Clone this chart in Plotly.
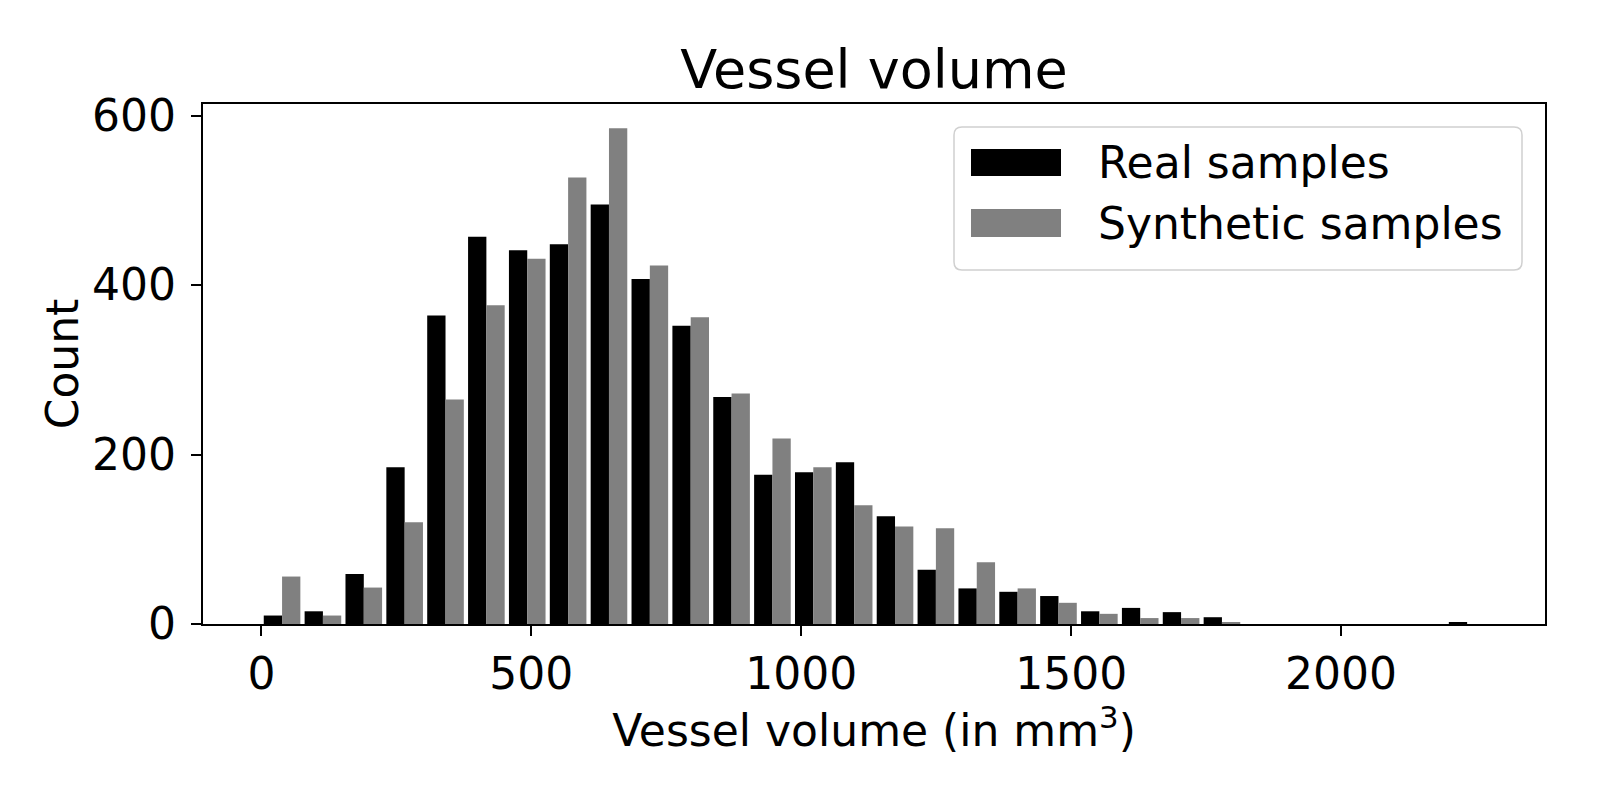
import numpy as np
import plotly.graph_objects as go

# Histogram bins (vessel volume, mm^3)
bin_start = 0.4
bin_width = 75.7
n_bins = 30

# Counts per bin
real_counts = [10, 15, 59, 185, 364, 457, 441, 448, 495, 407,
               352, 268, 176, 179, 191, 127, 64, 42, 38, 33,
               15, 19, 14, 8, 0, 0, 0, 0, 0, 2]
synthetic_counts = [56, 10, 43, 120, 265, 376, 431, 527, 585, 423,
                    362, 272, 219, 185, 140, 115, 113, 73, 42, 25,
                    12, 7, 7, 2, 0, 0, 0, 0, 0, 0]

x_ticks = [0, 500, 1000, 1500, 2000]
y_ticks = [0, 200, 400, 600]

bin_centers = bin_start + bin_width * (np.arange(n_bins) + 0.5)

FONT = "DejaVu Sans"
PAGE_OFFSET = 8  # default body margin of the html page

# wanted plot area in screen pixels
L, R, T, B = 203, 1545, 104, 624
W, H = R - L, B - T


def px_x(p):
    return (p - L) / W


def px_y(p):
    return (B - p) / H


fig = go.Figure()

fig.add_trace(go.Bar(x=bin_centers, y=real_counts, name='Real samples',
                     marker=dict(color='#000000', line=dict(width=0))))
fig.add_trace(go.Bar(x=bin_centers, y=synthetic_counts, name='Synthetic samples',
                     marker=dict(color='#808080', line=dict(width=0))))

# legend drawn as a matplotlib-style box
x0, x1, y0, y1 = px_x(954), px_x(1522), px_y(270), px_y(127)
rx, ry = 8 / W, 8 / H
box_path = (f"M {x0+rx},{y0} L {x1-rx},{y0} Q {x1},{y0} {x1},{y0+ry} "
            f"L {x1},{y1-ry} Q {x1},{y1} {x1-rx},{y1} "
            f"L {x0+rx},{y1} Q {x0},{y1} {x0},{y1-ry} "
            f"L {x0},{y0+ry} Q {x0},{y0} {x0+rx},{y0} Z")
fig.add_shape(type='path', path=box_path, xref='paper', yref='paper',
              line=dict(color='#d0d0d0', width=1.5), fillcolor='rgba(255,255,255,0.8)')

legend_items = [('Real samples', '#000000', 149, 176),
                ('Synthetic samples', '#808080', 209, 237)]
for label, color, top, bottom in legend_items:
    fig.add_shape(type='rect', xref='paper', yref='paper',
                  x0=px_x(971), x1=px_x(1061), y0=px_y(bottom), y1=px_y(top),
                  fillcolor=color, line=dict(width=0))
    fig.add_annotation(text=label, xref='paper', yref='paper',
                       x=px_x(1096), y=px_y((top + bottom) / 2),
                       xanchor='left', yanchor='middle', showarrow=False,
                       font=dict(family=FONT, size=44, color='black'))

fig.update_layout(
    width=1600, height=800,
    barmode='group', bargap=0.104, bargroupgap=0,
    showlegend=False,
    plot_bgcolor='white', paper_bgcolor='white',
    margin=dict(l=L - PAGE_OFFSET, r=1600 - R + PAGE_OFFSET,
                t=T - PAGE_OFFSET, b=800 - B + PAGE_OFFSET),
    font=dict(family=FONT, color='black'),
    title=dict(text='Vessel volume', x=px_x(874), xref='paper',
               y=1 - (69 - PAGE_OFFSET) / 800, yref='container',
               xanchor='center', yanchor='middle',
               font=dict(family=FONT, size=54, color='black')),
)

fig.update_xaxes(range=[-108.2, 2377.8], tickvals=x_ticks, ticks='outside',
                 ticklen=10, tickwidth=2.2, tickcolor='black',
                 showline=True, linewidth=2.2, linecolor='black', mirror=True,
                 showgrid=False, zeroline=False,
                 tickfont=dict(family=FONT, size=44, color='black'),
                 title=dict(text='Vessel volume (in mm<sup>3</sup>)', standoff=2,
                            font=dict(family=FONT, size=44, color='black')))

fig.update_yaxes(range=[0, 613.6], tickvals=y_ticks, ticks='outside',
                 ticklen=10, tickwidth=2.2, tickcolor='black',
                 showline=True, linewidth=2.2, linecolor='black', mirror=True,
                 showgrid=False, zeroline=False, ticklabelstandoff=6,
                 tickfont=dict(family=FONT, size=44, color='black'),
                 title=dict(text='Count', standoff=0,
                            font=dict(family=FONT, size=44, color='black')))

fig.write_html("out.html")
